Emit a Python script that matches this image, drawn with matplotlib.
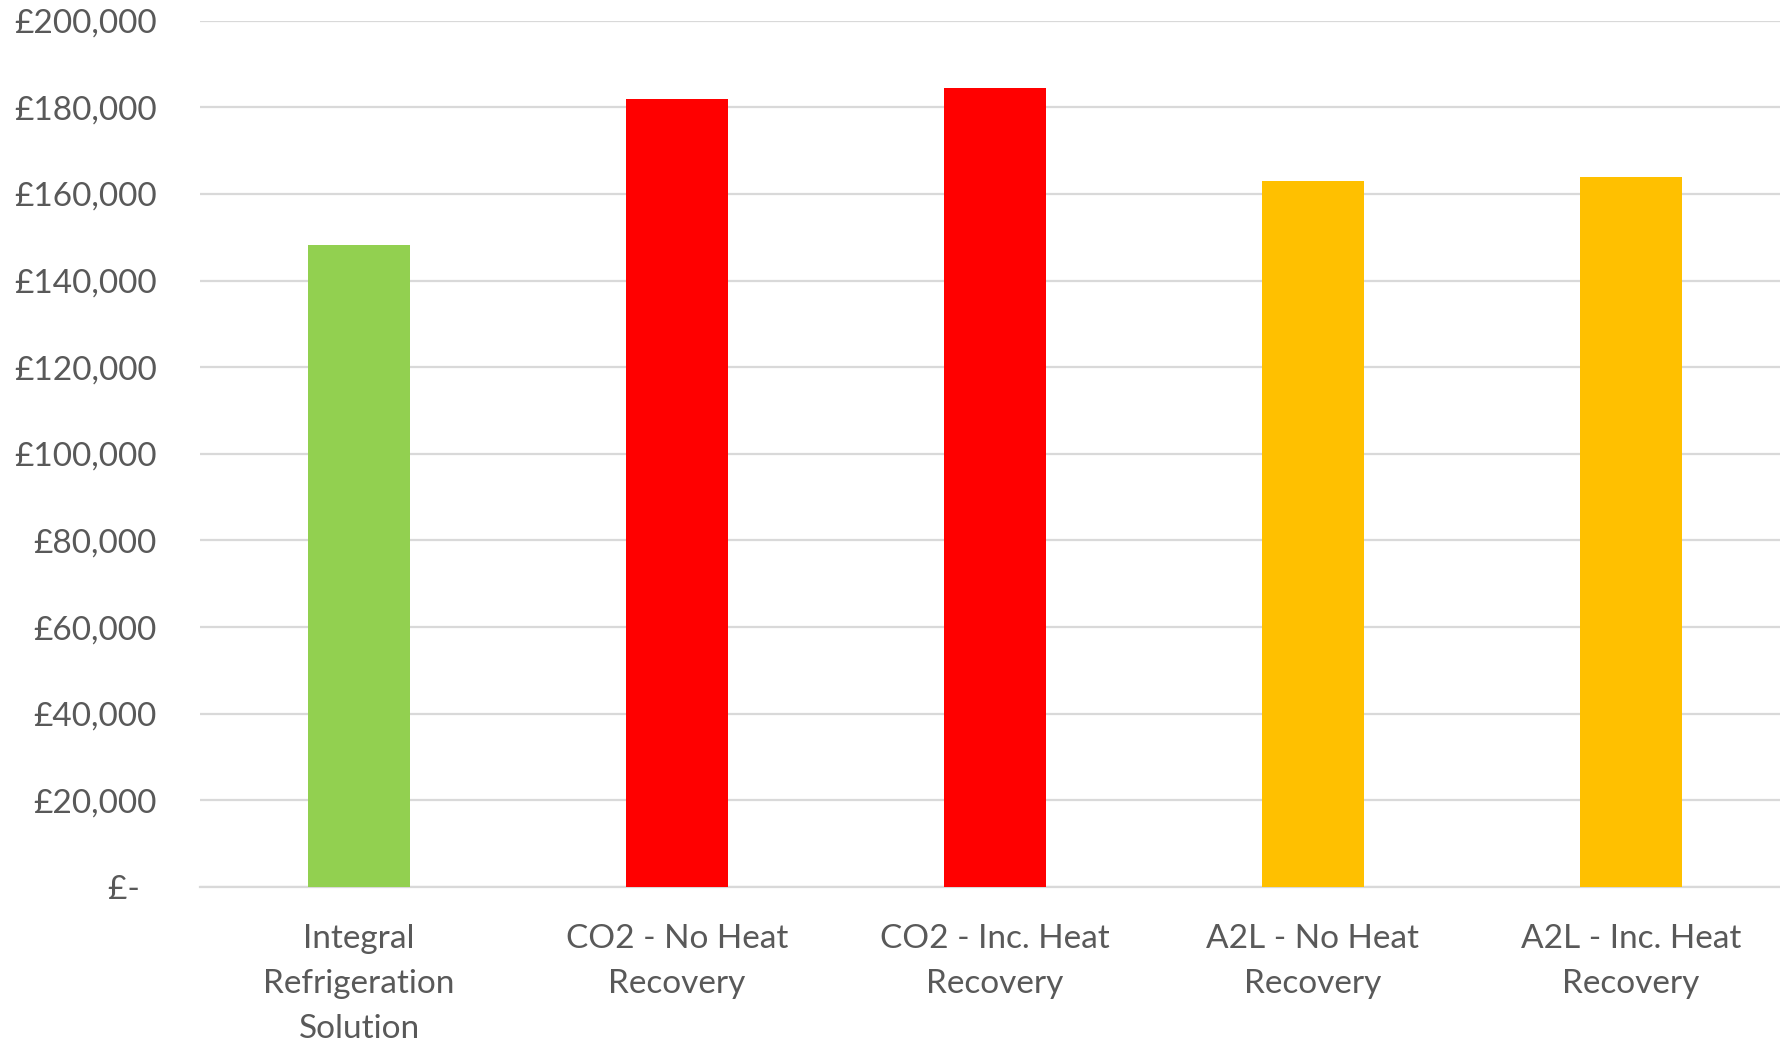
import numpy as np
import matplotlib
matplotlib.use("Agg")
import matplotlib.pyplot as plt
from matplotlib.ticker import FuncFormatter, MultipleLocator

# capital cost per refrigeration option
options = ["Integral\nRefrigeration\nSolution",
           "CO2 - No Heat\nRecovery",
           "CO2 - Inc. Heat\nRecovery",
           "A2L - No Heat\nRecovery",
           "A2L - Inc. Heat\nRecovery"]
costs = [148300, 182000, 184500, 163000, 164000]
bar_colours = ["#92D050", "#FF0000", "#FF0000", "#FFC000", "#FFC000"]

plt.rcParams['font.family'] = ['Lato', 'DejaVu Sans']
text_col = "#595959"
grid_col = "#D9D9D9"

fig = plt.figure(figsize=(17.8, 10.45), dpi=100)
ax = fig.add_axes([200/1780, 1 - 887/1045, 1590/1780, (887 - 20.7)/1045])

x = np.arange(len(options))
ax.bar(x, costs, width=0.32, color=bar_colours, zorder=3)

ax.set_xlim(-0.5, len(options) - 0.5)
ax.set_ylim(0, 200000)
ax.yaxis.set_major_locator(MultipleLocator(20000))


def pounds(v, pos):
    if v == 0:
        return "£-  "
    return "£{:,.0f}".format(v)


ax.yaxis.set_major_formatter(FuncFormatter(pounds))
ax.grid(axis="y", color=grid_col, linewidth=1.6, zorder=0)

for s in ["top", "right", "left"]:
    ax.spines[s].set_visible(False)
ax.spines["bottom"].set_color(grid_col)
ax.spines["bottom"].set_linewidth(1.6)

ax.set_xticks(x)
ax.set_xticklabels(options, linespacing=1.62)
ax.tick_params(axis="both", length=0, labelsize=24, labelcolor=text_col)
ax.tick_params(axis="y", pad=31)
ax.tick_params(axis="x", pad=27)

fig.savefig("out.png", dpi=100, facecolor="white")
